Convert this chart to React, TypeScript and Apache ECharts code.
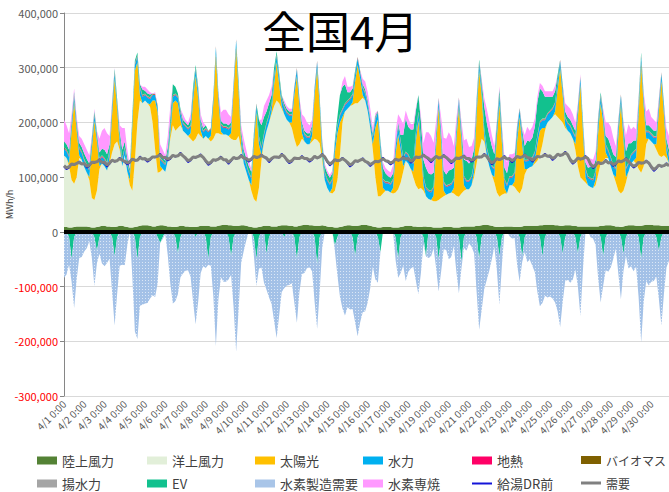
import React, { useEffect, useRef } from "react";
import * as echarts from "echarts";

// Values in thousand MWh/h, 3-hour steps (0,3,...,21h), one row per day 4/1 .. 4/30
const DAYS = [1, 2, 3, 4, 5, 6, 7, 8, 9, 10, 11, 12, 13, 14, 15, 16, 17, 18, 19, 20, 21, 22, 23, 24, 25, 26, 27, 28, 29, 30];
const HOURS = [0, 3, 6, 9, 12, 15, 18, 21];

const LAND_WIND = [
  9, 9, 8, 8, 9, 10, 10, 10,
  10, 10, 9, 8, 8, 9, 10, 11,
  11, 10, 10, 9, 9, 10, 11, 11,
  10, 9, 8, 8, 9, 10, 11, 12,
  12, 12, 11, 10, 10, 11, 12, 12,
  11, 10, 10, 9, 9, 10, 11, 11,
  10, 10, 9, 9, 9, 10, 11, 11,
  11, 11, 10, 10, 10, 11, 12, 13,
  13, 12, 12, 11, 11, 11, 12, 12,
  11, 10, 9, 8, 8, 9, 10, 11,
  11, 11, 10, 10, 10, 11, 12, 12,
  12, 11, 11, 10, 10, 11, 12, 13,
  13, 12, 12, 11, 11, 11, 12, 11,
  10, 9, 9, 8, 8, 9, 10, 11,
  12, 12, 11, 11, 11, 12, 13, 13,
  12, 11, 10, 9, 8, 8, 9, 9,
  9, 9, 8, 8, 8, 9, 10, 11,
  11, 11, 10, 10, 9, 9, 10, 10,
  9, 9, 8, 8, 8, 8, 9, 9,
  9, 9, 8, 8, 8, 9, 10, 10,
  10, 10, 10, 11, 11, 12, 13, 13,
  12, 11, 10, 9, 9, 9, 10, 10,
  10, 10, 9, 9, 9, 10, 11, 11,
  11, 11, 11, 11, 12, 12, 13, 13,
  13, 13, 12, 12, 11, 11, 12, 12,
  12, 11, 11, 10, 10, 10, 10, 10,
  10, 10, 10, 10, 11, 11, 12, 12,
  12, 11, 10, 10, 9, 10, 11, 12,
  12, 12, 11, 11, 11, 12, 13, 13,
  13, 12, 12, 12, 11, 11, 11, 11,
];

const OFFSHORE_WIND = [
  131, 126, 112, 87, 79, 90, 125, 122,
  108, 98, 86, 54, 50, 66, 105, 114,
  109, 102, 115, 136, 151, 155, 139, 109,
  130, 101, 77, 67, 121, 190, 229, 223,
  228, 223, 217, 190, 140, 97, 98, 103,
  99, 120, 160, 186, 176, 180, 184, 174,
  170, 165, 161, 156, 161, 170, 164, 159,
  164, 159, 155, 160, 170, 169, 166, 165,
  165, 163, 158, 157, 157, 164, 138, 113,
  99, 85, 66, 52, 47, 71, 120, 154,
  174, 189, 205, 220, 230, 224, 213, 203,
  193, 189, 179, 160, 145, 149, 158, 152,
  147, 148, 153, 159, 157, 151, 118, 84,
  70, 63, 61, 67, 87, 131, 190, 209,
  213, 218, 221, 224, 224, 228, 232, 227,
  208, 179, 140, 91, 57, 57, 61, 66,
  66, 63, 62, 64, 70, 81, 100, 119,
  114, 104, 90, 75, 69, 71, 65, 55,
  51, 49, 48, 48, 50, 54, 56, 59,
  61, 63, 62, 58, 56, 61, 65, 68,
  68, 75, 90, 114, 139, 158, 152, 127,
  108, 94, 80, 63, 55, 59, 60, 60,
  75, 75, 73, 66, 61, 70, 94, 104,
  107, 109, 114, 119, 128, 148, 172, 187,
  192, 197, 203, 198, 194, 189, 178, 173,
  168, 159, 139, 110, 90, 85, 80, 75,
  72, 70, 75, 95, 114, 119, 123, 123,
  108, 94, 80, 65, 61, 65, 79, 98,
  113, 118, 114, 104, 97, 108, 147, 157,
  152, 148, 138, 128, 126, 129, 124, 114,
];

const SOLAR = [
  0, 0, 5, 90, 150, 85, 5, 0,
  0, 0, 5, 90, 145, 90, 5, 0,
  0, 0, 10, 70, 120, 60, 10, 0,
  0, 0, 10, 120, 165, 110, 10, 0,
  0, 0, 5, 40, 90, 110, 10, 0,
  0, 0, 10, 40, 55, 45, 10, 0,
  0, 0, 10, 75, 115, 65, 10, 0,
  0, 0, 10, 65, 145, 60, 5, 0,
  0, 0, 10, 90, 170, 80, 10, 0,
  0, 0, 10, 100, 165, 80, 10, 0,
  0, 0, 5, 40, 70, 35, 5, 0,
  0, 0, 10, 80, 130, 70, 10, 0,
  0, 0, 10, 80, 130, 70, 10, 0,
  0, 0, 10, 70, 85, 60, 10, 0,
  0, 0, 5, 40, 70, 40, 5, 0,
  0, 0, 10, 90, 140, 80, 10, 0,
  0, 0, 10, 70, 100, 60, 10, 0,
  0, 0, 10, 80, 125, 75, 10, 0,
  0, 0, 10, 100, 170, 100, 10, 0,
  0, 0, 10, 100, 165, 95, 10, 0,
  0, 0, 10, 90, 145, 80, 10, 0,
  0, 0, 10, 100, 170, 95, 10, 0,
  0, 0, 10, 90, 140, 80, 10, 0,
  0, 0, 5, 30, 45, 30, 5, 0,
  0, 0, 5, 50, 95, 50, 5, 0,
  0, 0, 10, 90, 170, 90, 10, 0,
  0, 0, 10, 75, 110, 70, 10, 0,
  0, 0, 10, 100, 165, 95, 10, 0,
  0, 0, 10, 100, 200, 110, 10, 0,
  0, 0, 10, 80, 140, 75, 10, 0,
];

const HYDRO = [
  12, 12, 12, 12, 10, 10, 12, 12,
  12, 12, 12, 12, 10, 10, 12, 12,
  12, 12, 12, 12, 10, 10, 12, 12,
  12, 12, 12, 12, 10, 10, 12, 12,
  10, 10, 10, 10, 10, 10, 12, 12,
  12, 12, 12, 12, 10, 10, 12, 12,
  12, 12, 12, 12, 12, 12, 12, 12,
  12, 12, 12, 12, 12, 12, 12, 12,
  12, 12, 12, 12, 12, 12, 12, 12,
  12, 12, 12, 12, 12, 12, 12, 12,
  12, 12, 12, 12, 12, 12, 12, 12,
  12, 12, 12, 12, 12, 12, 12, 12,
  12, 12, 12, 12, 12, 12, 12, 12,
  14, 14, 14, 14, 12, 12, 12, 12,
  12, 12, 12, 12, 12, 12, 12, 12,
  12, 12, 12, 14, 14, 14, 14, 14,
  14, 14, 14, 14, 14, 14, 14, 14,
  14, 14, 14, 14, 14, 14, 14, 14,
  14, 14, 14, 14, 14, 14, 14, 14,
  14, 14, 14, 14, 14, 14, 14, 14,
  14, 14, 14, 14, 12, 12, 12, 12,
  14, 14, 14, 14, 14, 14, 14, 14,
  14, 14, 14, 14, 14, 14, 14, 14,
  14, 14, 14, 14, 14, 14, 14, 14,
  14, 14, 14, 14, 12, 12, 12, 12,
  12, 12, 12, 12, 12, 12, 14, 14,
  14, 14, 14, 14, 12, 12, 12, 12,
  14, 14, 14, 14, 14, 14, 14, 14,
  14, 14, 14, 14, 12, 12, 12, 12,
  12, 12, 12, 12, 12, 12, 12, 12,
];

const GEOTHERMAL = [
  1, 1, 1, 1, 1, 1, 1, 1, 1, 1, 1, 1, 1, 1, 1, 1, 1, 1, 1, 1, 1, 1, 1, 1,
  1, 1, 1, 1, 1, 1, 1, 1, 1, 1, 1, 1, 1, 1, 1, 1, 1, 1, 1, 1, 1, 1, 1, 1,
  1, 1, 1, 1, 1, 1, 1, 1, 1, 1, 1, 1, 1, 1, 1, 1, 1, 1, 1, 1, 1, 1, 1, 1,
  1, 1, 1, 1, 1, 1, 1, 1, 1, 1, 1, 1, 1, 1, 1, 1, 1, 1, 1, 1, 1, 1, 1, 1,
  1, 1, 1, 1, 1, 1, 1, 1, 1, 1, 1, 1, 1, 1, 1, 1, 1, 1, 1, 1, 1, 1, 1, 1,
  1, 1, 1, 1, 1, 1, 1, 1, 1, 1, 1, 1, 1, 1, 1, 1, 1, 1, 1, 1, 1, 1, 1, 1,
  1, 1, 1, 1, 1, 1, 1, 1, 1, 1, 1, 1, 1, 1, 1, 1, 1, 1, 1, 1, 1, 1, 1, 1,
  1, 1, 1, 1, 1, 1, 1, 1, 1, 1, 1, 1, 1, 1, 1, 1, 1, 1, 1, 1, 1, 1, 1, 1,
  1, 1, 1, 1, 1, 1, 1, 1, 1, 1, 1, 1, 1, 1, 1, 1, 1, 1, 1, 1, 1, 1, 1, 1,
  1, 1, 1, 1, 1, 1, 1, 1, 1, 1, 1, 1, 1, 1, 1, 1, 1, 1, 1, 1, 1, 1, 1, 1,
];

const BIOMASS = [
  1, 1, 1, 1, 1, 1, 1, 1, 1, 1, 1, 1, 1, 1, 1, 1, 1, 1, 1, 1, 1, 1, 1, 1,
  1, 1, 1, 1, 1, 1, 1, 1, 1, 1, 1, 1, 1, 1, 1, 1, 1, 1, 1, 1, 1, 1, 1, 1,
  1, 1, 1, 1, 1, 1, 1, 1, 1, 1, 1, 1, 1, 1, 1, 1, 1, 1, 1, 1, 1, 1, 1, 1,
  1, 1, 1, 1, 1, 1, 1, 1, 1, 1, 1, 1, 1, 1, 1, 1, 1, 1, 1, 1, 1, 1, 1, 1,
  1, 1, 1, 1, 1, 1, 1, 1, 1, 1, 1, 1, 1, 1, 1, 1, 1, 1, 1, 1, 1, 1, 1, 1,
  1, 1, 1, 1, 1, 1, 1, 1, 1, 1, 1, 1, 1, 1, 1, 1, 1, 1, 1, 1, 1, 1, 1, 1,
  1, 1, 1, 1, 1, 1, 1, 1, 1, 1, 1, 1, 1, 1, 1, 1, 1, 1, 1, 1, 1, 1, 1, 1,
  1, 1, 1, 1, 1, 1, 1, 1, 1, 1, 1, 1, 1, 1, 1, 1, 1, 1, 1, 1, 1, 1, 1, 1,
  1, 1, 1, 1, 1, 1, 1, 1, 1, 1, 1, 1, 1, 1, 1, 1, 1, 1, 1, 1, 1, 1, 1, 1,
  1, 1, 1, 1, 1, 1, 1, 1, 1, 1, 1, 1, 1, 1, 1, 1, 1, 1, 1, 1, 1, 1, 1, 1,
];

const PUMPED_HYDRO = [
  1, 1, 1, 1, 1, 1, 1, 1, 1, 1, 1, 1, 1, 1, 1, 1, 1, 1, 1, 1, 1, 1, 1, 1,
  1, 1, 1, 1, 1, 1, 1, 1, 1, 1, 1, 1, 1, 1, 1, 1, 1, 1, 1, 1, 1, 1, 1, 1,
  1, 1, 1, 1, 1, 1, 1, 1, 1, 1, 1, 1, 1, 1, 1, 1, 1, 1, 1, 1, 1, 1, 1, 1,
  1, 1, 1, 1, 1, 1, 1, 1, 1, 1, 1, 1, 1, 1, 1, 1, 1, 1, 1, 1, 1, 1, 1, 1,
  1, 1, 1, 1, 1, 1, 1, 1, 1, 1, 1, 1, 1, 1, 1, 1, 1, 1, 1, 1, 1, 1, 1, 1,
  1, 1, 1, 1, 1, 1, 1, 1, 1, 1, 1, 1, 1, 1, 1, 1, 1, 1, 1, 1, 1, 1, 1, 1,
  1, 1, 1, 1, 1, 1, 1, 1, 1, 1, 1, 1, 1, 1, 1, 1, 1, 1, 1, 1, 1, 1, 1, 1,
  1, 1, 1, 1, 1, 1, 1, 1, 1, 1, 1, 1, 1, 1, 1, 1, 1, 1, 1, 1, 1, 1, 1, 1,
  1, 1, 1, 1, 1, 1, 1, 1, 1, 1, 1, 1, 1, 1, 1, 1, 1, 1, 1, 1, 1, 1, 1, 1,
  1, 1, 1, 1, 1, 1, 1, 1, 1, 1, 1, 1, 1, 1, 1, 1, 1, 1, 1, 1, 1, 1, 1, 1,
];

// EV discharge (positive) and EV charging (negative)
const EV_DISCHARGE = [
  10, 10, 10, 5, 5, 5, 8, 8,
  10, 10, 10, 5, 5, 5, 10, 12,
  15, 15, 10, 5, 5, 5, 10, 15,
  10, 10, 5, 5, 5, 5, 5, 10,
  5, 5, 5, 0, 0, 0, 5, 5,
  5, 10, 15, 20, 12, 5, 5, 5,
  5, 5, 10, 10, 5, 5, 5, 5,
  5, 0, 0, 0, 0, 0, 5, 5,
  5, 5, 5, 0, 0, 5, 10, 10,
  10, 10, 10, 5, 0, 30, 40, 30,
  20, 20, 15, 15, 5, 5, 5, 5,
  5, 5, 5, 0, 0, 0, 5, 5,
  5, 5, 5, 0, 0, 0, 10, 10,
  10, 10, 10, 5, 15, 35, 40, 35,
  15, 10, 10, 5, 0, 0, 5, 5,
  5, 5, 5, 5, 0, 5, 20, 15,
  10, 10, 10, 5, 5, 10, 40, 60,
  50, 55, 60, 40, 30, 30, 30, 35,
  30, 30, 25, 10, 0, 10, 20, 20,
  25, 25, 20, 10, 0, 10, 30, 35,
  30, 30, 25, 10, 5, 10, 40, 45,
  40, 35, 25, 10, 10, 10, 20, 20,
  30, 30, 25, 10, 0, 10, 25, 35,
  30, 35, 45, 60, 60, 50, 40, 30,
  25, 20, 20, 10, 0, 5, 10, 10,
  10, 10, 10, 5, 0, 5, 10, 15,
  20, 20, 20, 10, 5, 5, 15, 20,
  20, 20, 20, 10, 0, 10, 30, 35,
  20, 20, 15, 10, 5, 5, 10, 10,
  10, 10, 10, 5, 0, 5, 10, 10,
];

const H2_FIRING = [
  40, 35, 30, 10, 6, 8, 12, 15,
  17, 17, 15, 3, 4, 2, 25, 33,
  40, 38, 15, 5, 2, 0, 10, 40,
  25, 15, 5, 0, 0, 0, 0, 5,
  7, 7, 4, 0, 2, 0, 20, 15,
  10, 20, 20, 0, 0, 0, 0, 10,
  5, 5, 10, 0, 0, 0, 10, 10,
  0, 0, 0, 0, 0, 0, 15, 25,
  25, 20, 10, 0, 0, 0, 10, 20,
  15, 10, 5, 0, 0, 0, 10, 20,
  20, 15, 15, 0, 0, 0, 0, 5,
  5, 5, 5, 0, 0, 0, 15, 25,
  20, 15, 10, 0, 0, 0, 5, 5,
  5, 5, 5, 0, 0, 0, 10, 15,
  10, 10, 5, 0, 0, 0, 10, 15,
  15, 15, 10, 5, 0, 0, 10, 10,
  10, 10, 15, 20, 15, 30, 20, 15,
  15, 10, 10, 5, 0, 10, 30, 65,
  75, 70, 55, 20, 0, 20, 60, 65,
  70, 60, 40, 15, 0, 10, 35, 40,
  30, 25, 20, 5, 0, 5, 15, 25,
  25, 20, 15, 5, 5, 5, 20, 20,
  10, 10, 10, 5, 0, 5, 20, 25,
  20, 20, 15, 10, 10, 10, 10, 10,
  10, 10, 10, 0, 0, 0, 15, 20,
  20, 20, 15, 5, 3, 0, 10, 15,
  15, 15, 15, 5, 0, 5, 25, 30,
  35, 30, 20, 5, 0, 5, 30, 35,
  25, 25, 20, 5, 0, 5, 25, 30,
  20, 20, 15, 5, 0, 0, 20, 25,
];

const EV_CHARGE = [
  0, 0, -10, -50, -10, 0, 0, 0,
  0, 0, 0, 0, -10, -35, -10, 0,
  0, 0, 0, -10, -45, -10, 0, 0,
  0, 0, 0, 0, -10, -50, -10, 0,
  0, 0, 0, 0, 0, -10, -20, -10,
  0, 0, 0, 0, -10, -40, -10, 0,
  0, 0, 0, 0, -10, 0, 0, 0,
  -10, -50, -10, 0, 0, 0, 0, 0,
  0, -10, -45, -10, 0, 0, 0, 0,
  0, 0, 0, -10, -50, -10, 0, 0,
  -40, -10, 0, 0, 0, 0, 0, -10,
  0, 0, 0, -10, -50, -10, 0, 0,
  0, 0, 0, -10, -60, -10, 0, 0,
  0, 0, 0, -25, -10, 0, 0, 0,
  0, 0, -10, -45, -10, 0, 0, 0,
  0, 0, 0, 0, -10, -37, 0, 0,
  0, 0, 0, -10, -50, -10, 0, 0,
  0, 0, 0, 0, 0, 0, -10, -45,
  0, 0, 0, -10, -50, -10, 0, 0,
  0, 0, 0, 0, -10, -55, -10, 0,
  0, 0, 0, -10, -50, -10, 0, 0,
  0, 0, 0, -10, -45, -10, 0, 0,
  0, 0, 0, 0, -10, -45, -10, 0,
  0, 0, 0, 0, -10, -45, -10, 0,
  0, 0, 0, 0, -10, -40, -10, 0,
  0, 0, -10, -40, -10, 0, 0, 0,
  0, 0, 0, 0, -10, -45, -10, 0,
  0, 0, 0, 0, -10, -40, -10, 0,
  0, 0, 0, -10, -50, -10, 0, 0,
  0, 0, -10, -35, -10, 0, 0, 0,
];

const H2_PRODUCTION = [
  -84, -78, -50, -41, -129, -87, -48, -46,
  -36, -30, -17, -48, -89, -23, -30, -58,
  -63, -57, -49, -100, -126, -103, -62, -60,
  -61, -25, 0, -83, -172, -146, -125, -133,
  -131, -130, -122, -116, -119, -84, 0, -3,
  -4, -43, -95, -131, -117, -74, -73, -76,
  -71, -70, -82, -128, -159, -128, -75, -63,
  -56, -10, -52, -118, -209, -123, -83, -91,
  -91, -77, -34, -128, -219, -140, -57, -35,
  -16, 0, 0, -33, -49, -58, -65, -93,
  -66, -110, -132, -163, -194, -153, -110, -93,
  -98, -97, -94, -120, -116, -100, -77, -75,
  -66, -65, -72, -118, -117, -100, -30, 0,
  0, 0, 0, -10, -69, -118, -140, -153,
  -138, -142, -131, -120, -181, -165, -147, -145,
  -128, -102, -64, -87, -83, 0, 0, 0,
  0, 0, 0, -42, -34, -65, -62, -90,
  -73, -67, -64, -90, -114, -75, -12, 0,
  -48, -45, -30, -56, -59, -62, -32, -33,
  -50, -46, -26, -73, -102, -12, -19, -35,
  -21, -27, -39, -100, -129, -133, -105, -88,
  -71, -50, -27, -60, -88, -51, 0, 0,
  -8, -12, -11, -60, -81, -10, -27, -55,
  -51, -62, -74, -110, -126, -85, -107, -120,
  -118, -122, -129, -145, -164, -88, -80, -88,
  -93, -87, -59, -60, -144, -70, 0, 0,
  -10, -12, -24, -85, -119, -53, -60, -73,
  -65, -49, -31, -77, -113, -32, -34, -67,
  -63, -72, -64, -110, -152, -118, -90, -98,
  -91, -90, -72, -88, -161, -113, -65, -53,
];

const DEMAND = [
  121, 117, 119, 124, 123, 125, 127, 124,
  125, 120, 122, 127, 127, 128, 131, 127,
  127, 122, 126, 131, 129, 130, 134, 131,
  129, 126, 128, 133, 131, 131, 136, 133,
  134, 131, 133, 137, 137, 138, 141, 136,
  136, 133, 135, 140, 138, 139, 143, 139,
  135, 130, 132, 137, 136, 138, 140, 136,
  130, 125, 127, 132, 131, 133, 136, 132,
  132, 127, 131, 136, 134, 135, 139, 135,
  134, 131, 133, 138, 136, 137, 140, 137,
  135, 130, 134, 137, 137, 136, 141, 138,
  132, 128, 130, 135, 134, 134, 137, 134,
  134, 131, 133, 138, 135, 137, 141, 137,
  129, 124, 127, 132, 130, 131, 134, 131,
  127, 122, 125, 130, 129, 131, 133, 129,
  127, 123, 126, 129, 128, 130, 134, 130,
  129, 126, 128, 133, 131, 132, 136, 133,
  134, 129, 132, 137, 136, 137, 140, 137,
  134, 130, 134, 138, 135, 136, 139, 136,
  132, 128, 131, 135, 134, 136, 138, 134,
  134, 131, 133, 137, 137, 137, 141, 138,
  131, 126, 129, 134, 132, 134, 137, 133,
  134, 130, 133, 138, 136, 137, 140, 136,
  135, 131, 134, 138, 137, 138, 141, 138,
  139, 134, 137, 142, 140, 141, 145, 141,
  132, 127, 130, 135, 133, 134, 137, 134,
  124, 119, 122, 127, 125, 126, 130, 126,
  127, 123, 125, 130, 128, 130, 133, 129,
  124, 120, 122, 127, 126, 126, 129, 126,
  119, 114, 117, 122, 120, 121, 124, 121,
];

// demand before water-heater demand response
const DEMAND_BEFORE_DR = [
  119, 114, 117, 124, 122, 125, 129, 124,
  123, 117, 120, 127, 126, 128, 133, 127,
  125, 119, 124, 131, 128, 130, 136, 131,
  127, 123, 126, 133, 130, 131, 138, 133,
  132, 128, 131, 137, 136, 138, 143, 136,
  134, 130, 133, 140, 137, 139, 145, 139,
  133, 127, 130, 137, 135, 138, 142, 136,
  128, 122, 125, 132, 130, 133, 138, 132,
  130, 124, 129, 136, 133, 135, 141, 135,
  132, 128, 131, 138, 135, 137, 142, 137,
  133, 127, 132, 137, 136, 136, 143, 138,
  130, 125, 128, 135, 133, 134, 139, 134,
  132, 128, 131, 138, 134, 137, 143, 137,
  127, 121, 125, 132, 129, 131, 136, 131,
  125, 119, 123, 130, 128, 131, 135, 129,
  125, 120, 124, 129, 127, 130, 136, 130,
  127, 123, 126, 133, 130, 132, 138, 133,
  132, 126, 130, 137, 135, 137, 142, 137,
  132, 127, 132, 138, 134, 136, 141, 136,
  130, 125, 129, 135, 133, 136, 140, 134,
  132, 128, 131, 137, 136, 137, 143, 138,
  129, 123, 127, 134, 131, 134, 139, 133,
  132, 127, 131, 138, 135, 137, 142, 136,
  133, 128, 132, 138, 136, 138, 143, 138,
  137, 131, 135, 142, 139, 141, 147, 141,
  130, 124, 128, 135, 132, 134, 139, 134,
  122, 116, 120, 127, 124, 126, 132, 126,
  125, 120, 123, 130, 127, 130, 135, 129,
  122, 117, 120, 127, 125, 126, 131, 126,
  117, 111, 115, 122, 119, 121, 126, 121,
];

const TIME_LABELS = DAYS.flatMap((d) => HOURS.map((h) => `4/${d} ${h}:00`));

const LEGEND_ROWS = [
  ["陸上風力", "洋上風力", "太陽光", "水力", "地熱", "バイオマス"],
  ["揚水力", "EV", "水素製造需要", "水素専焼", "給湯DR前", "需要"],
];
const LEGEND_COL_X = [37, 147, 255, 363, 472, 581];
const LEGEND_ROW_Y = [454, 477];

const FONT = "'Noto Sans CJK JP', 'Noto Sans', sans-serif";

const COLORS: Record<string, string> = {
  陸上風力: "#548235",
  洋上風力: "#e2efd9",
  太陽光: "#ffc000",
  水力: "#00b0f0",
  地熱: "#ff0066",
  バイオマス: "#7f6000",
  揚水力: "#a5a5a5",
  EV: "#12c18e",
  水素製造需要: "#a9c5e8",
  水素専焼: "#ff99ff",
  給湯DR前: "#1414d8",
  需要: "#808080",
};

// small dotted tile used as the fill of the hydrogen-production area
function dottedTile(): HTMLCanvasElement | null {
  const c = document.createElement("canvas");
  c.width = 3;
  c.height = 3;
  const ctx = c.getContext("2d");
  if (!ctx) return null;
  ctx.fillStyle = "#a3c1e7";
  ctx.fillRect(0, 0, 3, 3);
  ctx.fillStyle = "#dbe7f6";
  ctx.fillRect(1, 1, 1, 1);
  return c;
}

function area(name: string, data: number[], stack: string, fill?: any) {
  const color = COLORS[name];
  return {
    name,
    type: "line",
    stack,
    data,
    symbol: "none",
    showSymbol: false,
    silent: true,
    lineStyle: { width: 0, color },
    itemStyle: { color },
    areaStyle: { color: fill || color, opacity: 1 },
    emphasis: { disabled: true },
    z: 2,
  };
}

export default function App() {
  const ref = useRef<HTMLDivElement>(null);

  useEffect(() => {
    if (!ref.current) return;
    const chart = echarts.init(ref.current, undefined, { renderer: "svg" });

    const tile = dottedTile();
    const h2Fill = tile ? { image: tile, repeat: "repeat" } : undefined;

    const legends = LEGEND_ROWS.flatMap((row, r) =>
      row.map((name, c) => ({
        data: [{ name, icon: "rect" }],
        left: LEGEND_COL_X[c],
        top: LEGEND_ROW_Y[r],
        padding: 0,
        itemWidth: 20,
        itemHeight: name === "給湯DR前" ? 2 : name === "需要" ? 3 : 8,
        itemGap: 0,
        selectedMode: false,
        textStyle: { fontSize: c === 5 ? 12 : 13, color: "#404040", fontFamily: FONT },
      }))
    );

    chart.setOption({
      animation: false,
      title: {
        text: "全国4月",
        left: 262,
        top: 7,
        padding: 0,
        textStyle: { fontSize: 44, lineHeight: 46, fontWeight: "normal", color: "#000", fontFamily: FONT },
      },
      legend: legends,
      grid: { left: 64, right: 0, top: 13, bottom: 96, containLabel: false, outerBoundsMode: "none" },
      xAxis: {
        type: "category",
        data: TIME_LABELS,
        boundaryGap: false,
        axisLine: { show: false },
        axisTick: { show: false },
        splitLine: { show: false },
        axisLabel: {
          interval: 7,
          rotate: 45,
          fontSize: 10,
          margin: 6,
          color: "#595959",
          fontFamily: FONT,
        },
      },
      yAxis: {
        type: "value",
        min: -300,
        max: 400,
        interval: 100,
        name: "MWh/h",
        nameLocation: "middle",
        nameGap: 50,
        nameMoveOverlap: false,
        nameRotate: 90,
        nameTextStyle: { fontSize: 9, color: "#404040", fontFamily: FONT },
        axisLine: { show: true, lineStyle: { color: "#868686", width: 1 } },
        axisTick: { show: true, length: 4, lineStyle: { color: "#868686" } },
        splitLine: { show: true, lineStyle: { color: "#d9d9d9", width: 1 } },
        axisLabel: {
          fontSize: 11,
          fontFamily: FONT,
          margin: 6,
          color: (v: number) => (Number(v) < 0 ? "#ff0000" : "#595959"),
          formatter: (v: number) => (v === 0 ? "0" : (v * 1000).toLocaleString("en-US")),
        },
      },
      series: [
        area("陸上風力", LAND_WIND, "supply"),
        area("洋上風力", OFFSHORE_WIND, "supply"),
        area("太陽光", SOLAR, "supply"),
        area("水力", HYDRO, "supply"),
        area("地熱", GEOTHERMAL, "supply"),
        area("バイオマス", BIOMASS, "supply"),
        area("揚水力", PUMPED_HYDRO, "supply"),
        area("EV", EV_DISCHARGE, "supply"),
        area("水素専焼", H2_FIRING, "supply"),
        area("EV", EV_CHARGE, "uptake"),
        area("水素製造需要", H2_PRODUCTION, "uptake", h2Fill),
        {
          name: "給湯DR前",
          type: "line",
          data: DEMAND_BEFORE_DR,
          symbol: "none",
          silent: true,
          lineStyle: { color: COLORS["給湯DR前"], width: 1.5 },
          itemStyle: { color: COLORS["給湯DR前"] },
          z: 3,
        },
        {
          name: "需要",
          type: "line",
          data: DEMAND,
          symbol: "none",
          silent: true,
          lineStyle: { color: COLORS["需要"], width: 3 },
          itemStyle: { color: COLORS["需要"] },
          z: 4,
          markLine: {
            silent: true,
            symbol: "none",
            label: { show: false },
            lineStyle: { color: "#000", width: 4, type: "solid" },
            data: [{ yAxis: 0 }],
          },
        },
      ],
    });

    return () => chart.dispose();
  }, []);

  return (
    <div
      ref={ref}
      style={{ position: "absolute", left: 0, top: 0, width: 669, height: 492, background: "#fff" }}
    />
  );
}
